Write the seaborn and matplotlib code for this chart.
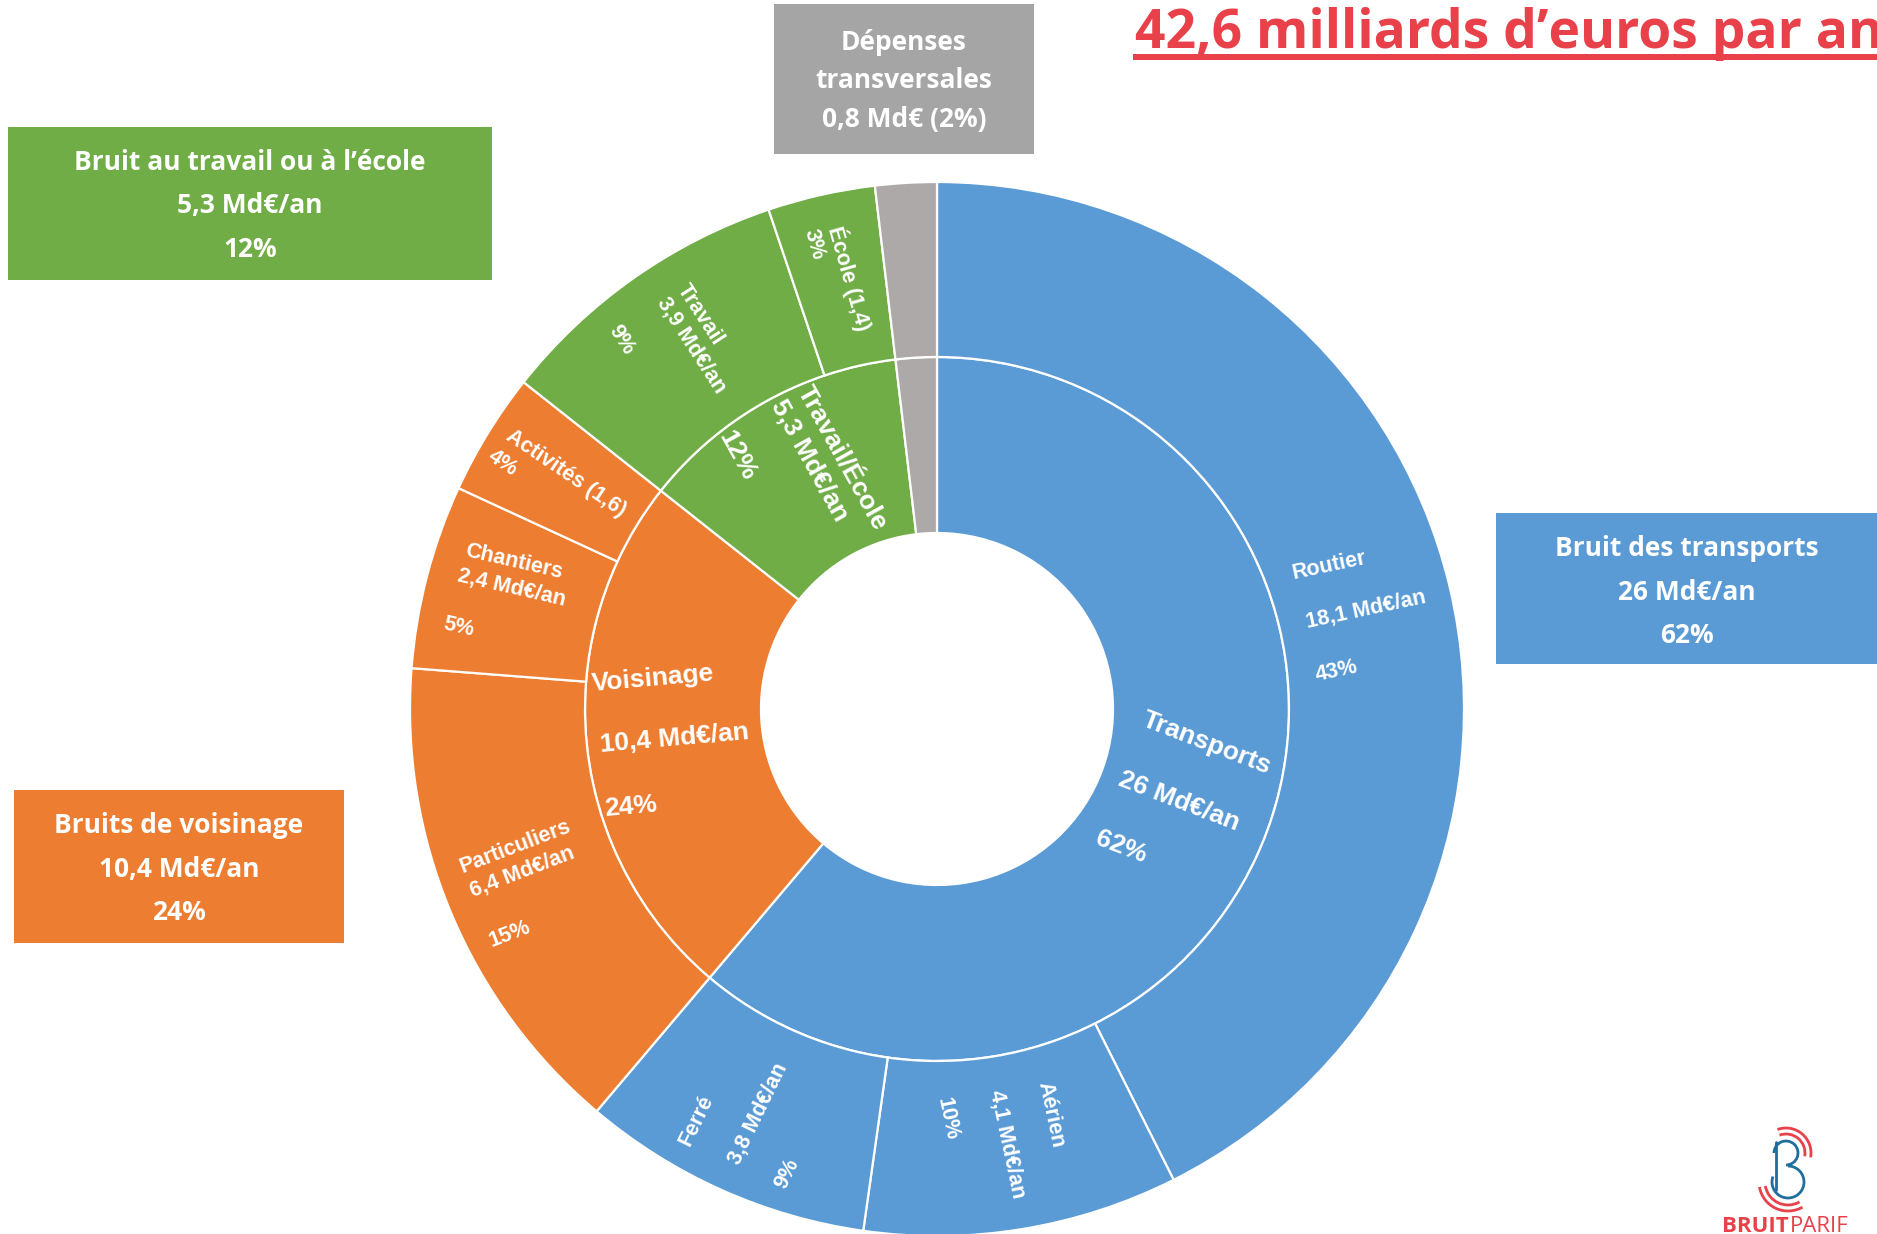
import matplotlib
matplotlib.use("Agg")
import matplotlib.pyplot as plt
from matplotlib.patches import Rectangle, Arc
import seaborn as sns

# Coût social du bruit, en milliards d'euros par an
inner_names = ["Transports", "Voisinage", "Travail/École", "Dépenses transversales"]
inner_values = [26, 10.4, 5.3, 0.8]
inner_pcts = ["62%", "24%", "12%", "2%"]

outer_names = ["Routier", "Aérien", "Ferré", "Particuliers", "Chantiers",
               "Activités", "Travail", "École", "Transversales"]
outer_values = [18.1, 4.1, 3.8, 6.4, 2.4, 1.6, 3.9, 1.4, 0.8]
outer_pcts = ["43%", "10%", "9%", "15%", "5%", "4%", "9%", "3%", "2%"]
outer_group = [0, 0, 0, 1, 1, 1, 2, 2, 3]

box_titles = ["Bruit des transports", "Bruits de voisinage",
              "Bruit au travail ou à l’école", "Dépenses\ntransversales"]
total = 42.6

BLUE, ORANGE, GREEN, GREY = "#5B9BD5", "#ED7D31", "#70AD47", "#ADA9A9"
group_colors = [BLUE, ORANGE, GREEN, GREY]
box_colors = [BLUE, ORANGE, GREEN, "#A5A5A5"]
RED = "#E8414A"


def md(v):
    return f"{v:g}".replace(".", ",")


sns.set_theme(style="white")
W, H = 1877, 1234
fig = plt.figure(figsize=(W / 100, H / 100), dpi=100)
ax = fig.add_axes([0, 0, 1, 1])

cx, cy = 937, H - 709
R_out, R_mid, R_in = 527, 352, 176
edge = dict(edgecolor="white", linewidth=1.6)

ax.pie(inner_values, radius=R_mid, center=(cx, cy), startangle=90, counterclock=False,
       colors=group_colors, wedgeprops=dict(width=R_mid - R_in, **edge))
ax.pie(outer_values, radius=R_out, center=(cx, cy), startangle=90, counterclock=False,
       colors=[group_colors[g] for g in outer_group],
       wedgeprops=dict(width=R_out - R_mid, **edge))
ax.set_xlim(0, W)
ax.set_ylim(0, H)
ax.set_aspect("equal")
ax.axis("off")

arial = ["Liberation Sans", "DejaVu Sans"]
calibri = ["Open Sans", "DejaVu Sans"]


def put(lines, xy, rot, size):
    for s, (x, y) in zip(lines, xy):
        ax.text(x, H - y, s, rotation=rot, rotation_mode="anchor", ha="center",
                va="center", color="white", fontsize=size, fontweight="bold", family=arial)


# placement des étiquettes dans les secteurs (pixels, rotation)
inner_layout = {
    "Transports": (-21, [(1207, 743), (1179, 801), (1121, 847)]),
    "Voisinage": (5, [(653, 679), (674, 739), (631, 807)]),
    "Travail/École": (-61, [(842, 458), (809, 461), (737, 456)]),
}
outer_layout = {
    "Routier": (12, [(1329, 566), (1366, 610), (1337, 671)]),
    "Aérien": (-78, [(1051, 1115), (1007, 1144), (947, 1119)]),
    "Ferré": (64, [(696, 1120), (758, 1114), (787, 1174)]),
    "Particuliers": (21, [(515, 847), (522, 872), (510, 934)]),
    "Chantiers": (-13, [(514, 562), (512, 588), (459, 627)]),
    "Activités": (-34, [(566, 473), (503, 463)]),
    "Travail": (-57, [(700, 315), (692, 345), (621, 340)]),
    "École": (-74, [(850, 278), (814, 244)]),
}

for name, v, p in zip(inner_names, inner_values, inner_pcts):
    if name in inner_layout:
        rot, xy = inner_layout[name]
        put([name, f"{md(v)} Md€/an", p], xy, rot, 19)

for name, v, p in zip(outer_names, outer_values, outer_pcts):
    if name not in outer_layout:
        continue
    rot, xy = outer_layout[name]
    if len(xy) == 2:
        lines = [f"{name} ({md(v)})", p]
    else:
        lines = [name, f"{md(v)} Md€/an", p]
    put(lines, xy, rot, 15.5)

# encadrés : (x, y haut, largeur, hauteur, 1re ligne de base, interligne)
boxes = [(1496, 513, 381, 151, 43, 43.5), (14, 790, 330, 153, 43, 43.5),
         (8, 127, 484, 153, 43, 43.5), (774, 4, 260, 150, 46, 38.5)]
for i, (x, y, w, h, b0, dy) in enumerate(boxes):
    ax.add_patch(Rectangle((x, H - y - h), w, h, color=box_colors[i], lw=0))
    if i < 3:
        lines = [box_titles[i], f"{md(inner_values[i])} Md€/an", inner_pcts[i]]
    else:
        lines = box_titles[i].split("\n") + [f"{md(inner_values[i])} Md€ ({inner_pcts[i]})"]
    for k, s in enumerate(lines):
        ax.text(x + w / 2, H - (y + b0 + k * dy), s, ha="center", va="baseline",
                color="white", fontsize=19, fontweight="bold", family=calibri)

# titre (coupé au bord droit comme sur l'original)
ax.text(1135, H - 48, "42,6 milliards d’euros par an", ha="left", va="baseline",
        color=RED, fontsize=38.5, fontweight="bold", family=calibri)
ax.plot([1133, W], [H - 57, H - 57], color=RED, lw=4.3, solid_capstyle="butt")

# logo Bruitparif
lb = "#1F6E9C"
ax.plot([1776, 1776], [H - 1142, H - 1190], color=lb, lw=2)
ax.add_patch(Arc((1786, H - 1153), 24, 24, theta1=-90, theta2=180, color=lb, lw=2))
ax.add_patch(Arc((1788, H - 1182), 32, 32, theta1=-200, theta2=90, color=lb, lw=2))
for r in (38, 50):
    ax.add_patch(Arc((1786, H - 1153), r, r, theta1=-10, theta2=110, color=RED, lw=2))
for r in (46, 58):
    ax.add_patch(Arc((1788, H - 1182), r, r, theta1=190, theta2=300, color=RED, lw=2))
ax.text(1722, H - 1227, "BRUIT", ha="left", va="center", color=RED, fontsize=16,
        fontweight="bold", family=calibri)
ax.text(1790, H - 1227, "PARIF", ha="left", va="center", color=RED, fontsize=16,
        fontweight="normal", family=calibri)

fig.savefig("out.png", dpi=100, facecolor="white")
